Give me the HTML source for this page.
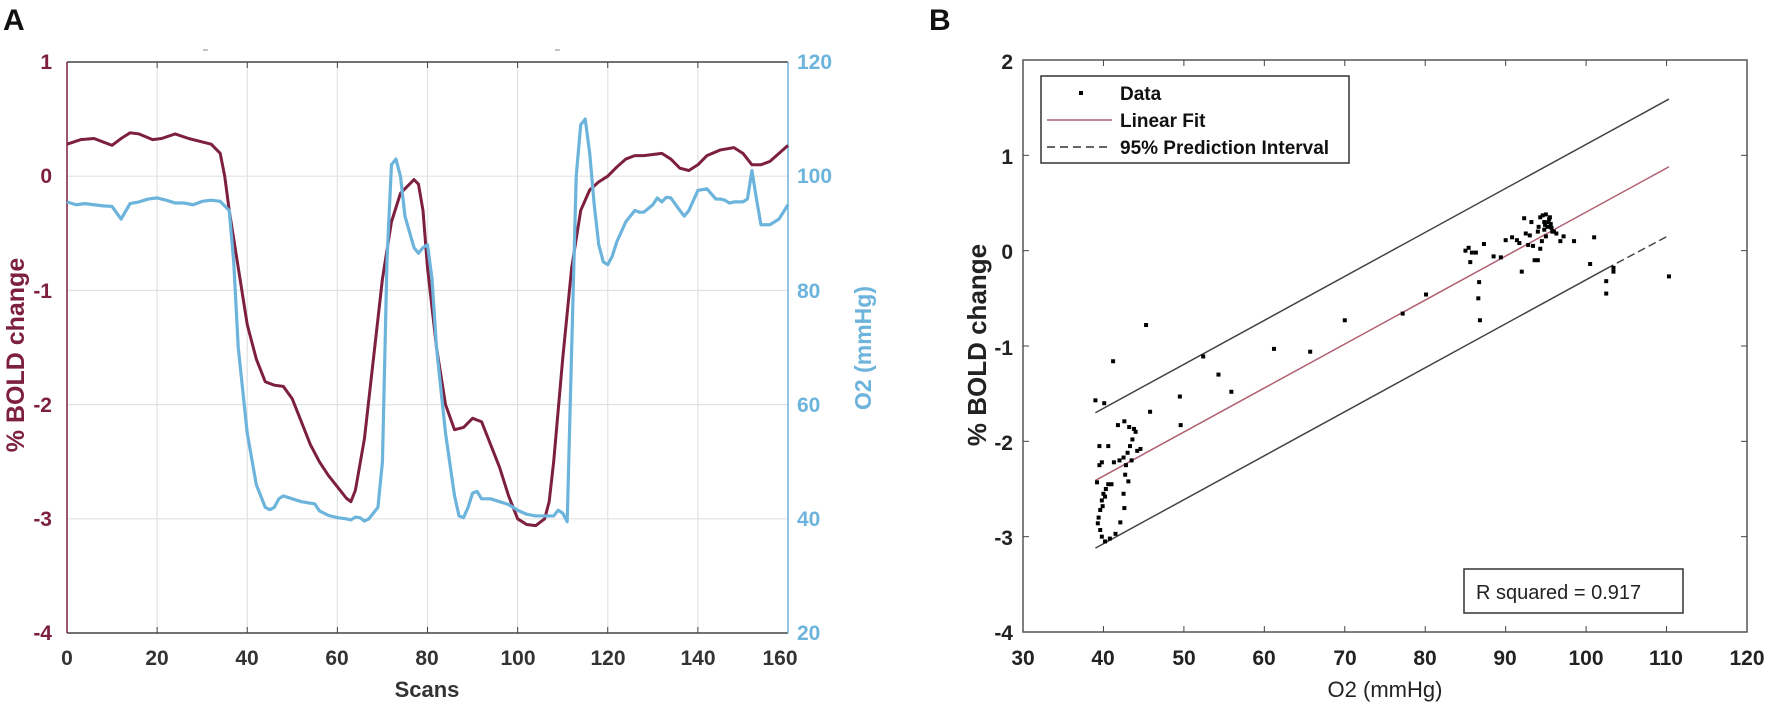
<!DOCTYPE html>
<html><head><meta charset="utf-8"><style>
html,body{margin:0;padding:0;background:#fff;}
svg{display:block;font-family:"Liberation Sans",Arial,sans-serif;}
</style></head><body>
<svg id="s" width="1772" height="709" viewBox="0 0 1772 709" xmlns="http://www.w3.org/2000/svg">
<rect width="1772" height="709" fill="#fff"/>
<text x="3" y="30" font-size="30" font-weight="bold" fill="#111">A</text>
<text x="929" y="30" font-size="30" font-weight="bold" fill="#111">B</text>
<g id="gA"></g>
<g id="gB"></g>
<!-- Panel A labels -->
<g font-size="21" font-weight="bold" fill="#7d1f3e" text-anchor="end">
<text x="52" y="69">1</text><text x="52" y="183">0</text><text x="52" y="298">-1</text>
<text x="52" y="412">-2</text><text x="52" y="526">-3</text><text x="52" y="640">-4</text>
</g>
<g font-size="21" font-weight="bold" fill="#6cb4dc" text-anchor="start">
<text x="797" y="69">120</text><text x="797" y="183">100</text><text x="797" y="298">80</text>
<text x="797" y="412">60</text><text x="797" y="526">40</text><text x="797" y="640">20</text>
</g>
<g font-size="21" font-weight="bold" fill="#333" text-anchor="middle">
<text x="67" y="665">0</text><text x="157" y="665">20</text><text x="247" y="665">40</text>
<text x="337" y="665">60</text><text x="427" y="665">80</text><text x="518" y="665">100</text>
<text x="608" y="665">120</text><text x="698" y="665">140</text><text x="780" y="665">160</text>
</g>
<text x="427" y="697" font-size="22" font-weight="bold" fill="#333" text-anchor="middle">Scans</text>
<text transform="translate(24,355) rotate(-90)" font-size="25" font-weight="bold" fill="#7d1f3e" text-anchor="middle">% BOLD change</text>
<text transform="translate(871,348) rotate(-90)" font-size="23" font-weight="bold" fill="#6cb4dc" text-anchor="middle">O2 (mmHg)</text>
<!-- Panel B labels -->
<g font-size="21" font-weight="bold" fill="#222" text-anchor="end">
<text x="1013" y="69">2</text><text x="1013" y="164">1</text><text x="1013" y="259">0</text>
<text x="1013" y="355">-1</text><text x="1013" y="450">-2</text><text x="1013" y="545">-3</text><text x="1013" y="640">-4</text>
</g>
<g font-size="21" font-weight="bold" fill="#222" text-anchor="middle">
<text x="1023" y="665">30</text><text x="1103" y="665">40</text><text x="1184" y="665">50</text>
<text x="1264" y="665">60</text><text x="1345" y="665">70</text><text x="1425" y="665">80</text>
<text x="1505" y="665">90</text><text x="1586" y="665">100</text><text x="1666" y="665">110</text><text x="1747" y="665">120</text>
</g>
<text x="1385" y="697" font-size="22" fill="#222" text-anchor="middle">O2 (mmHg)</text>
<text transform="translate(986,345) rotate(-90)" font-size="26" font-weight="bold" fill="#222" text-anchor="middle">% BOLD change</text>
<rect x="1041" y="76" width="308" height="87" fill="#fff" stroke="#333" stroke-width="1.5"/>
<rect x="1079" y="91" width="4" height="4" fill="#000"/>
<line x1="1047" y1="120" x2="1112" y2="120" stroke="#b06070" stroke-width="1.5"/>
<line x1="1047" y1="147" x2="1112" y2="147" stroke="#333" stroke-width="1.5" stroke-dasharray="8,5"/>
<g font-size="19" font-weight="bold" fill="#111">
<text x="1120" y="100">Data</text><text x="1120" y="127">Linear Fit</text><text x="1120" y="154">95% Prediction Interval</text>
</g>
<rect x="1464" y="569" width="219" height="44" fill="#fff" stroke="#333" stroke-width="1.5"/>
<text x="1476" y="599" font-size="20" fill="#222">R squared = 0.917</text>
</svg>
<script>
const NS="http://www.w3.org/2000/svg";
function el(p,t,a){const e=document.createElementNS(NS,t);for(const k in a)e.setAttribute(k,a[k]);p.appendChild(e);return e;}
const gA=document.getElementById('gA');
const AL=67,AR=788,AT=62,AB=633;
const ax=s=>AL+s*(AR-AL)/160, ayb=b=>AT+(1-b)*(AB-AT)/5, ayo=o=>AB-(o-20)*(AB-AT)/100;
for(let s=20;s<160;s+=20)el(gA,'line',{x1:ax(s),y1:AT,x2:ax(s),y2:AB,stroke:'#e2e2e2','stroke-width':1.2});
for(let b=0;b>=-3;b--)el(gA,'line',{x1:AL,y1:ayb(b),x2:AR,y2:ayb(b),stroke:'#e2e2e2','stroke-width':1.2});
el(gA,'line',{x1:AL,y1:AT,x2:AR,y2:AT,stroke:'#444','stroke-width':1.5});
el(gA,'line',{x1:AL,y1:AB,x2:AR,y2:AB,stroke:'#444','stroke-width':1.5});
el(gA,'line',{x1:AL,y1:AT,x2:AL,y2:AB,stroke:'#7d1f3e','stroke-width':1.5});
el(gA,'line',{x1:AR,y1:AT,x2:AR,y2:AB,stroke:'#6cb4dc','stroke-width':1.5});
for(let s=20;s<160;s+=20){el(gA,'line',{x1:ax(s),y1:AB,x2:ax(s),y2:AB-6,stroke:'#444'});el(gA,'line',{x1:ax(s),y1:AT,x2:ax(s),y2:AT+6,stroke:'#444'});}
el(gA,'line',{x1:203,y1:50,x2:208,y2:50,stroke:'#888'});el(gA,'line',{x1:555,y1:50,x2:560,y2:50,stroke:'#888'});
const bold=[[0,0.28],[3,0.32],[6,0.33],[8,0.3],[10,0.27],[12,0.33],[14,0.38],[16,0.37],[19,0.32],[21,0.33],[24,0.37],[27,0.33],[30,0.3],[32,0.28],[34,0.2],[35,0],[36,-0.3],[38,-0.8],[40,-1.3],[42,-1.6],[44,-1.8],[46,-1.83],[48,-1.84],[50,-1.95],[52,-2.15],[54,-2.35],[56,-2.5],[58,-2.62],[60,-2.72],[62,-2.82],[63,-2.85],[64,-2.75],[66,-2.3],[68,-1.6],[70,-0.9],[72,-0.4],[74,-0.15],[76,-0.07],[77,-0.03],[78,-0.07],[79,-0.3],[80,-0.8],[82,-1.5],[84,-2],[86,-2.22],[88,-2.2],[90,-2.12],[92,-2.15],[94,-2.35],[96,-2.55],[98,-2.8],[100,-3],[102,-3.05],[104,-3.06],[106,-3],[107,-2.85],[108,-2.5],[110,-1.6],[112,-0.8],[114,-0.3],[116,-0.12],[118,-0.05],[120,0],[122,0.08],[124,0.15],[126,0.18],[128,0.18],[132,0.2],[134,0.15],[136,0.07],[138,0.05],[140,0.1],[142,0.18],[145,0.23],[148,0.25],[150,0.2],[152,0.1],[154,0.1],[156,0.13],[158,0.2],[160,0.27]];
const o2=[[0,95.5],[2,95],[4,95.2],[6,95],[8,94.8],[10,94.7],[12,92.5],[14,95.2],[16,95.5],[18,96],[20,96.2],[22,95.8],[24,95.3],[26,95.3],[28,95],[30,95.6],[32,95.8],[34,95.6],[36,94],[37,85],[38,70],[40,55],[42,46],[44,42],[45,41.6],[46,42],[47,43.5],[48,44],[50,43.5],[52,43],[55,42.6],[56,41.4],[58,40.6],[60,40.2],[62,40],[63,39.8],[64,40.3],[65,40.2],[66,39.6],[67,40],[69,42],[70,50],[71,85],[72,102],[73,103],[74,100],[75,93],[77,87.5],[78,86.5],[79,87.5],[80,88],[81,82],[82,70],[84,55],[86,44],[87,40.5],[88,40.2],[89,42],[90,44.5],[91,44.8],[92,43.5],[94,43.5],[96,43],[98,42.5],[100,41.5],[102,40.8],[104,40.5],[106,40.5],[108,40.5],[109,41.5],[110,41],[111,39.5],[112,70],[113,100],[114,109],[115,110],[116,104],[117,95],[118,88],[119,85],[120,84.5],[121,86],[122,88.5],[124,92],[126,94],[127,93.7],[128,93.7],[130,95],[131,96.2],[132,95.5],[133,96.3],[134,96.2],[136,94],[137,93],[138,94],[140,97.5],[142,97.8],[144,96],[145,96],[146,95.8],[147,95.3],[148,95.5],[150,95.5],[151,96],[152,101],[153,96],[154,91.5],[156,91.5],[158,92.5],[160,95]];
el(gA,'polyline',{points:bold.map(p=>ax(p[0])+','+ayb(p[1])).join(' '),fill:'none',stroke:'#7d1f3e','stroke-width':3,'stroke-linejoin':'round'});
el(gA,'polyline',{points:o2.map(p=>ax(p[0])+','+ayo(p[1])).join(' '),fill:'none',stroke:'#6cb4dc','stroke-width':3.2,'stroke-linejoin':'round'});
const gB=document.getElementById('gB');
const BL=1023,BR=1747,BT=60,BB=632;
const bx=v=>BL+(v-30)*(BR-BL)/90, by=v=>BT+(2-v)*(BB-BT)/6;
el(gB,'rect',{x:BL,y:BT,width:BR-BL,height:BB-BT,fill:'none',stroke:'#555','stroke-width':1.5});
for(let v=40;v<120;v+=10){el(gB,'line',{x1:bx(v),y1:BB,x2:bx(v),y2:BB-6,stroke:'#444'});el(gB,'line',{x1:bx(v),y1:BT,x2:bx(v),y2:BT+6,stroke:'#444'});}
for(let v=1;v>-4;v--){el(gB,'line',{x1:BL,y1:by(v),x2:BL+6,y2:by(v),stroke:'#444'});el(gB,'line',{x1:BR,y1:by(v),x2:BR-6,y2:by(v),stroke:'#444'});}
el(gB,'line',{x1:bx(39),y1:by(-1.70),x2:bx(110.3),y2:by(1.59),stroke:'#444','stroke-width':1.5});
el(gB,'line',{x1:bx(39),y1:by(-3.12),x2:bx(102.5),y2:by(-0.19),stroke:'#444','stroke-width':1.5});
el(gB,'line',{x1:bx(102.5),y1:by(-0.19),x2:bx(110.3),y2:by(0.16),stroke:'#444','stroke-width':1.5,'stroke-dasharray':'8,4'});
el(gB,'line',{x1:bx(39),y1:by(-2.41),x2:bx(110.3),y2:by(0.88),stroke:'#b06070','stroke-width':1.5});
const pts=[[39,-1.57],[40.1,-1.6],[41.2,-1.16],[45.3,-0.78],[52.4,-1.11],[54.3,-1.3],[55.9,-1.48],[49.5,-1.53],[49.6,-1.83],[45.8,-1.69],[61.2,-1.03],[65.7,-1.06],[70,-0.73],[77.2,-0.66],[80.1,-0.46],[39.5,-2.05],[40.6,-2.05],[39.5,-2.25],[39.8,-2.22],[39.2,-2.43],[41.8,-1.83],[42.6,-1.79],[43.2,-1.85],[43.8,-1.87],[44,-1.9],[43.6,-1.98],[43.3,-2.05],[44.2,-2.1],[44.6,-2.08],[43,-2.12],[42.5,-2.17],[42,-2.2],[41.3,-2.22],[42.8,-2.25],[43.5,-2.2],[42.7,-2.35],[43.1,-2.42],[42.5,-2.55],[42.6,-2.7],[42.1,-2.85],[41.5,-2.97],[40.8,-3.02],[40.2,-3.05],[39.8,-3.0],[39.6,-2.93],[39.3,-2.86],[39.4,-2.8],[39.6,-2.72],[39.8,-2.62],[40,-2.55],[40.3,-2.5],[40.6,-2.45],[41,-2.45],[40.2,-2.58],[39.9,-2.68],[85,0],[85.4,0.03],[85.8,-0.02],[86.3,-0.02],[85.6,-0.12],[86.7,-0.33],[86.6,-0.5],[86.8,-0.73],[87.3,0.07],[88.5,-0.06],[89.4,-0.07],[90,0.11],[90.8,0.14],[91.4,0.11],[91.7,0.08],[92,-0.22],[92.3,0.34],[92.5,0.18],[92.8,0.06],[93,0.16],[93.2,0.3],[93.4,0.05],[93.6,-0.1],[94,-0.1],[94,0.2],[94.3,0.35],[94.6,0.37],[94.8,0.3],[95,0.38],[95.2,0.25],[95.4,0.33],[95.6,0.28],[95.8,0.2],[96,0.2],[96.3,0.18],[95,0.15],[94.5,0.1],[94.3,0.02],[96.8,0.1],[97.2,0.15],[98.5,0.1],[100.5,-0.14],[101,0.14],[102.5,-0.32],[102.5,-0.45],[103.4,-0.18],[103.4,-0.22],[110.3,-0.27],[94.8,0.22],[95.5,0.35],[94.1,0.25],[95.3,0.3],[94.9,0.27],[95.7,0.24]];
pts.forEach(p=>el(gB,'rect',{x:bx(p[0])-2,y:by(p[1])-2,width:4,height:4,fill:'#000'}));
</script>
</body></html>
